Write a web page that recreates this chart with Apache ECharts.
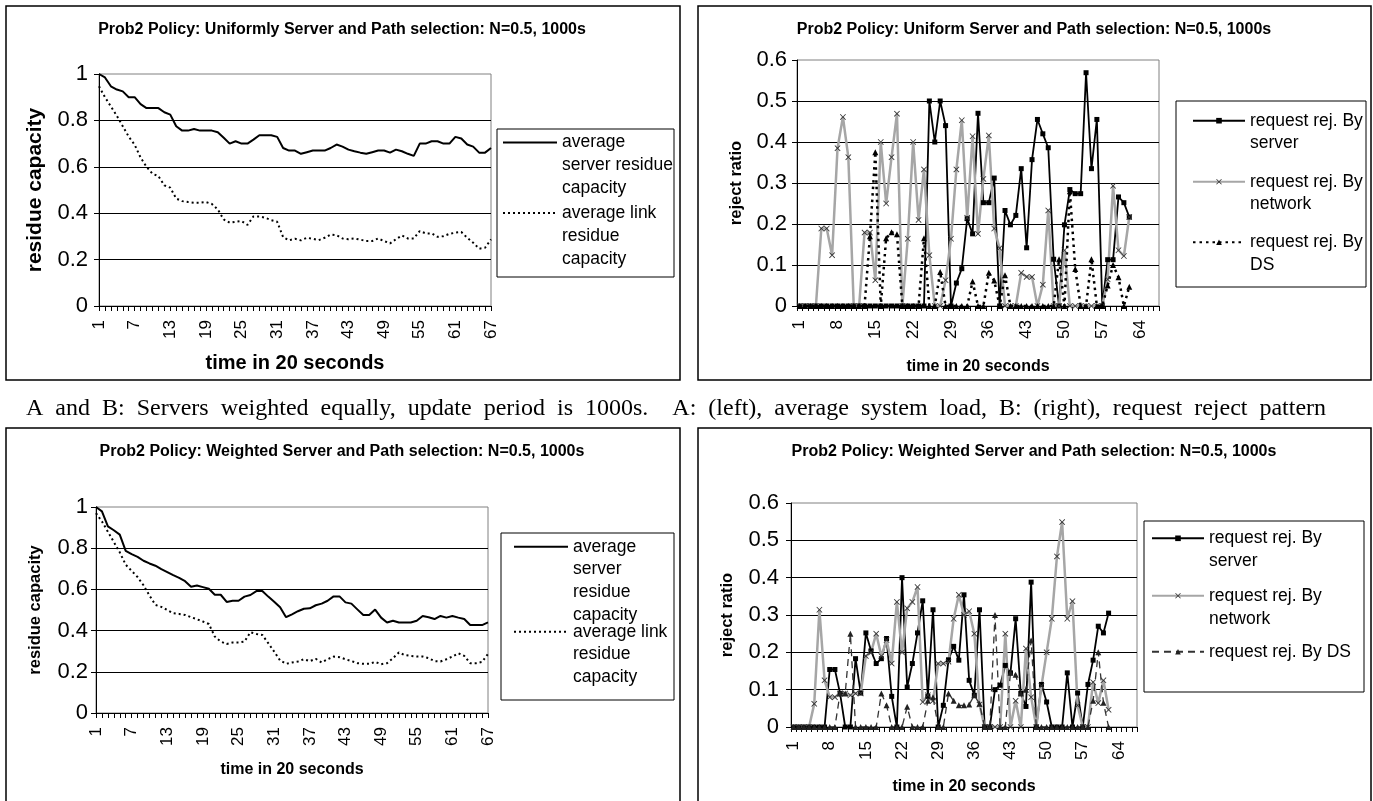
<!DOCTYPE html>
<html>
<head>
<meta charset="utf-8">
<title>Prob2 Policy charts</title>
<script src="https://cdn.jsdelivr.net/npm/echarts@6/dist/echarts.min.js"></script>
<style>
  html, body { margin: 0; padding: 0; background: #fff; }
  #chart { width: 1373px; height: 801px; }
</style>
</head>
<body>
<div id="chart"></div>
<script>
// x categories (time in 20 seconds)
const timeLabels = ['1','2','3','4','5','6','7','8','9','10','11','12','13','14','15','16','17','18','19','20',
  '21','22','23','24','25','26','27','28','29','30','31','32','33','34','35','36','37','38','39','40',
  '41','42','43','44','45','46','47','48','49','50','51','52','53','54','55','56','57','58','59','60',
  '61','62','63','64','65','66','67']

// A: uniform selection, residue capacity
const uniformServerResidue = [1.0,0.985,0.947,0.933,0.925,0.90,0.90,0.87,0.853,0.853,0.853,0.835,0.825,0.775,0.756,0.756,0.763,0.756,0.756,0.756,
  0.749,0.725,0.70,0.71,0.70,0.70,0.717,0.736,0.736,0.736,0.729,0.681,0.67,0.67,0.656,0.663,0.67,0.67,0.67,0.681,
  0.696,0.687,0.674,0.667,0.661,0.656,0.663,0.67,0.67,0.661,0.674,0.667,0.656,0.647,0.70,0.70,0.71,0.71,0.70,0.70,
  0.729,0.722,0.696,0.687,0.661,0.661,0.681]
const uniformLinkResidue = [0.947,0.90,0.86,0.82,0.775,0.73,0.695,0.64,0.60,0.57,0.56,0.52,0.51,0.463,0.452,0.448,0.445,0.445,0.448,0.44,
  0.416,0.373,0.359,0.363,0.366,0.35,0.386,0.386,0.38,0.37,0.363,0.297,0.283,0.29,0.283,0.294,0.29,0.284,0.294,0.308,
  0.305,0.291,0.288,0.291,0.286,0.28,0.28,0.291,0.28,0.27,0.288,0.304,0.291,0.291,0.323,0.313,0.313,0.298,0.301,0.311,
  0.316,0.319,0.294,0.273,0.247,0.251,0.287]

// B: uniform selection, reject ratio
const uniformRejServer = [0,0,0,0,0,0,0,0,0,0,0,0,0,0,0,0,0,0,0,0,0,0,0,0,
  0.5,0.4,0.5,0.44,0,0.056,0.091,0.213,0.176,0.47,0.252,0.252,0.312,0,0.233,0.198,
  0.221,0.335,0.142,0.357,0.455,0.42,0.386,0.114,0,0.198,0.284,0.274,0.274,0.569,0.335,0.455,
  0,0.113,0.113,0.266,0.252,0.217]
const uniformRejNetwork = [0,0,0,0,0.189,0.189,0.124,0.385,0.461,0.363,0,0,0.179,0.179,0.063,0.40,0.25,0.363,0.469,0,
  0.164,0.40,0.21,0.333,0.124,0,0,0.063,0.164,0.333,0.453,0.215,0.414,0.176,0.31,0.416,0.189,0.141,0,0,
  0,0.081,0.071,0.071,0,0.052,0.233,0,0,0.136,0,0,0,0,0,0,0,0.065,0.293,0.136,
  0.122,0.217]
const uniformRejDS = [0,0,0,0,0,0,0,0,0,0,0,0,0,0.17,0.375,0,0.165,0.18,0.175,0,
  0,0,0,0.165,0,0,0.083,0,0,0,0,0,0.06,0,0,0.081,0.062,0,0.075,0,
  0,0,0,0,0,0,0,0,0.114,0,0.28,0.09,0,0,0.114,0,0,0.05,0.1,0.07,
  0,0.047]

// C: weighted selection, residue capacity
const weightedServerResidue = [1.0,0.979,0.906,0.887,0.866,0.787,0.771,0.758,0.739,0.726,0.715,0.698,0.684,0.669,0.656,0.64,0.613,0.619,0.611,0.603,
  0.574,0.574,0.539,0.545,0.545,0.565,0.573,0.592,0.592,0.565,0.54,0.513,0.465,0.479,0.494,0.506,0.508,0.523,0.531,0.545,
  0.566,0.566,0.537,0.531,0.503,0.476,0.476,0.502,0.463,0.439,0.448,0.439,0.439,0.439,0.448,0.471,0.465,0.456,0.471,0.463,
  0.471,0.463,0.456,0.427,0.427,0.427,0.44]
const weightedLinkResidue = [0.97,0.93,0.88,0.83,0.78,0.72,0.69,0.66,0.62,0.57,0.525,0.515,0.50,0.484,0.481,0.476,0.465,0.455,0.444,0.432,
  0.371,0.347,0.335,0.342,0.342,0.347,0.392,0.384,0.379,0.339,0.298,0.255,0.239,0.245,0.25,0.261,0.252,0.263,0.245,0.261,
  0.274,0.271,0.261,0.252,0.242,0.239,0.239,0.248,0.237,0.242,0.266,0.294,0.281,0.277,0.274,0.274,0.266,0.252,0.25,0.261,
  0.274,0.29,0.277,0.242,0.242,0.248,0.287]

// D: weighted selection, reject ratio
const weightedRejServer = [0,0,0,0,0,0,0,0.154,0.154,0.09,0,0,0.183,0.091,0.252,0.204,0.17,0.183,0.237,0.082,
  0,0.4,0.107,0.17,0.252,0.338,0.082,0.314,0,0.058,0.18,0.216,0.179,0.354,0.125,0.085,0.314,0,0,0.1,
  0.112,0.165,0.145,0.29,0.09,0.055,0.388,0,0.114,0.067,0,0,0,0.145,0,0.091,0,0.114,0.179,0.27,
  0.252,0.305]
const weightedRejNetwork = [0,0,0,0,0.062,0.314,0.125,0.08,0.08,0.09,0.09,0.085,0.09,0.09,0.19,0.2,0.25,0.19,0.233,0.17,
  0.335,0.2,0.318,0.335,0.375,0.067,0.085,0.07,0.17,0.17,0.175,0.29,0.354,0.3,0.31,0.25,0.06,0,0,0,
  0,0.25,0,0.07,0,0.21,0.08,0,0.11,0.2,0.29,0.457,0.549,0.29,0.337,0.058,0,0,0.12,0.064,
  0.125,0.046]
const weightedRejDS = [0,0,0,0,0,0,0,0,0,0.09,0.09,0.25,0,0,0,0,0,0.09,0.058,0,
  0,0,0.054,0,0,0,0.07,0.08,0,0,0.09,0.07,0.058,0.058,0.06,0.085,0.062,0,0,0.3,
  0,0,0.145,0.14,0.09,0.1,0.232,0,0,0,0,0,0,0,0,0,0,0,0.07,0.2,
  0.065,0]

const captionWords = ['A', 'and', 'B:', 'Servers', 'weighted', 'equally,', 'update', 'period', 'is', '1000s.',
  '', 'A:', '(left),', 'average', 'system', 'load,', 'B:', '(right),', 'request', 'reject', 'pattern']

const FONT = "'Liberation Sans', Arial, sans-serif"
const SERIF = "'Liberation Serif', 'Times New Roman', serif"
const X_SYMBOL = 'path://M1,0 L5,4 L9,0 L10,1 L6,5 L10,9 L9,10 L5,6 L1,10 L0,9 L4,5 L0,1 Z'

const chart = echarts.init(document.getElementById('chart'))

// axis helpers
const makeXAxis = (gridIndex, boundaryGap, labelInterval, nameGap, nameSize) => ({
  type: 'category',
  gridIndex,
  data: timeLabels,
  boundaryGap,
  axisLine: { lineStyle: { color: '#000', width: 1 } },
  axisTick: { show: true, interval: 0, length: 5, lineStyle: { color: '#000' } },
  axisLabel: { interval: labelInterval, rotate: 90, fontSize: 17, color: '#000', fontFamily: FONT, margin: 14 },
  splitLine: { show: false },
  name: 'time in 20 seconds',
  nameLocation: 'middle',
  nameGap,
  nameTextStyle: { fontSize: nameSize, fontWeight: 'bold', color: '#000', fontFamily: FONT }
})

const makeYAxis = (gridIndex, max, interval, name, nameGap, nameSize, labelMargin) => ({
  type: 'value',
  gridIndex,
  min: 0,
  max,
  interval,
  axisLine: { show: true, lineStyle: { color: '#000' } },
  axisTick: { show: true, length: 5, lineStyle: { color: '#000' } },
  axisLabel: { fontSize: 22, color: '#000', fontFamily: FONT, margin: labelMargin },
  splitLine: { show: true, showMinLine: false, showMaxLine: false, lineStyle: { color: '#000', width: 1 } },
  name,
  nameLocation: 'middle',
  nameGap,
  nameTextStyle: { fontSize: nameSize, fontWeight: 'bold', color: '#000', fontFamily: FONT }
})

// series helpers
const capacityLine = (name, idx, data, dotted) => ({
  name, type: 'line', xAxisIndex: idx, yAxisIndex: idx, data,
  symbol: 'none',
  itemStyle: { color: '#000' },
  lineStyle: dotted ? { color: '#000', width: 2, type: [2, 3] } : { color: '#000', width: 2 }
})

const rejectLine = (name, idx, data, kind) => {
  const s = { name, type: 'line', xAxisIndex: idx, yAxisIndex: idx, data, showAllSymbol: true, symbolSize: 5 }
  if (kind === 'server') {
    s.symbol = 'rect'
    s.itemStyle = { color: '#000' }
    s.lineStyle = { color: '#000', width: 1.8 }
  } else if (kind === 'network') {
    s.symbol = X_SYMBOL
    s.symbolSize = 6
    s.itemStyle = { color: '#333' }
    s.lineStyle = { color: '#a6a6a6', width: 2.5 }
  } else if (kind === 'dsDotted') {
    s.symbol = 'triangle'
    s.symbolSize = 6
    s.itemStyle = { color: '#000' }
    s.lineStyle = { color: '#000', width: 2.5, type: [2.5, 4] }
  } else {
    s.symbol = 'triangle'
    s.symbolSize = 6
    s.itemStyle = { color: '#222' }
    s.lineStyle = { color: '#333', width: 1.3, type: [7, 5] }
  }
  return s
}

// one legend per item; leading blank lines keep the icon on the first text line
const legendItem = (name, lines, left, firstLineY, lineHeight, iconWidth, hideSymbol) => ({
  data: [name],
  formatter: () => '\n'.repeat(lines.length - 1) + lines.join('\n'),
  orient: 'vertical',
  left,
  top: firstLineY - lineHeight / 2 - (lines.length - 1) * lineHeight,
  padding: 0,
  itemWidth: iconWidth,
  itemHeight: 7,
  selectedMode: false,
  itemStyle: hideSymbol ? { opacity: 0 } : {},
  textStyle: { fontSize: 17.5, fontFamily: FONT, color: '#000', lineHeight }
})

const box = (x, y, w, h, lw) => ({
  type: 'rect', silent: true, z: 100,
  shape: { x, y, width: w, height: h },
  style: { fill: 'none', stroke: '#000', lineWidth: lw }
})

const titleStyle = { fontSize: 16, fontWeight: 'bold', fontFamily: FONT, color: '#000' }

const option = {
  animation: false,
  backgroundColor: '#fff',
  title: [
    { text: 'Prob2 Policy: Uniformly Server and Path selection: N=0.5, 1000s', left: 342, top: 22, textAlign: 'center', padding: 0, textStyle: titleStyle },
    { text: 'Prob2 Policy: Uniform Server and Path selection: N=0.5, 1000s', left: 1034, top: 22, textAlign: 'center', padding: 0, textStyle: titleStyle },
    { text: 'Prob2 Policy: Weighted Server and Path selection: N=0.5, 1000s', left: 342, top: 444, textAlign: 'center', padding: 0, textStyle: titleStyle },
    { text: 'Prob2 Policy: Weighted Server and Path selection: N=0.5, 1000s', left: 1034, top: 444, textAlign: 'center', padding: 0, textStyle: titleStyle }
  ],
  grid: [
    { left: 99, top: 74, width: 392, height: 232, show: true, borderColor: '#808080', borderWidth: 1, backgroundColor: 'transparent' },
    { left: 797, top: 60, width: 362, height: 246, show: true, borderColor: '#808080', borderWidth: 1, backgroundColor: 'transparent' },
    { left: 96, top: 507, width: 392, height: 206, show: true, borderColor: '#808080', borderWidth: 1, backgroundColor: 'transparent' },
    { left: 791, top: 503, width: 346, height: 224, show: true, borderColor: '#808080', borderWidth: 1, backgroundColor: 'transparent' }
  ],
  xAxis: [
    makeXAxis(0, false, 5, 47, 20),
    makeXAxis(1, true, 6, 53, 16),
    makeXAxis(2, false, 5, 49, 16),
    makeXAxis(3, true, 6, 52, 16)
  ],
  yAxis: [
    makeYAxis(0, 1, 0.2, 'residue capacity', 53, 21, 11),
    makeYAxis(1, 0.6, 0.1, 'reject ratio', 52, 16.5, 10),
    makeYAxis(2, 1, 0.2, 'residue capacity', 52, 16.5, 8),
    makeYAxis(3, 0.6, 0.1, 'reject ratio', 55, 16.5, 12)
  ],
  legend: [
    legendItem('A server', ['average', 'server residue', 'capacity'], 502, 142.5, 23, 54, true),
    legendItem('A link', ['average link', 'residue', 'capacity'], 502, 213, 23, 54, true),
    legendItem('B server', ['request rej. By', 'server'], 1192, 120.7, 22.6, 52, false),
    legendItem('B network', ['request rej. By', 'network'], 1192, 181.7, 22.6, 52, false),
    legendItem('B DS', ['request rej. By', 'DS'], 1192, 242.3, 22.6, 52, false),
    legendItem('C server', ['average', 'server', 'residue', 'capacity'], 513, 546.7, 22.8, 54, true),
    legendItem('C link', ['average link', 'residue', 'capacity'], 513, 631.7, 22.8, 54, true),
    legendItem('D server', ['request rej. By', 'server'], 1151, 538.3, 23, 52, false),
    legendItem('D network', ['request rej. By', 'network'], 1151, 595.7, 23, 52, false),
    legendItem('D DS', ['request rej. By DS'], 1151, 651.7, 23, 52, false)
  ],
  series: [
    capacityLine('A server', 0, uniformServerResidue, false),
    capacityLine('A link', 0, uniformLinkResidue, true),
    rejectLine('B server', 1, uniformRejServer, 'server'),
    rejectLine('B network', 1, uniformRejNetwork, 'network'),
    rejectLine('B DS', 1, uniformRejDS, 'dsDotted'),
    capacityLine('C server', 2, weightedServerResidue, false),
    capacityLine('C link', 2, weightedLinkResidue, true),
    rejectLine('D server', 3, weightedRejServer, 'server'),
    rejectLine('D network', 3, weightedRejNetwork, 'network'),
    rejectLine('D DS', 3, weightedRejDS, 'dsDashed')
  ],
  graphic: [
    box(6, 6, 674, 374, 1.5),
    box(698, 6, 673, 374, 1.5),
    box(6, 428, 674, 390, 1.5),
    box(698, 428, 673, 390, 1.5),
    box(497, 129, 177, 148, 1),
    box(1176, 101, 190, 186, 1),
    box(501, 533, 173, 167, 1),
    box(1144, 521, 220, 171, 1),
    {
      type: 'text', silent: true,
      style: {
        // justified caption: words spread a little wider than normal
        text: captionWords.join('  '),
        x: 26, y: 409, fontFamily: SERIF, fontSize: 24, fill: '#000', verticalAlign: 'middle'
      }
    }
  ]
}

chart.setOption(option)
</script>
</body>
</html>
